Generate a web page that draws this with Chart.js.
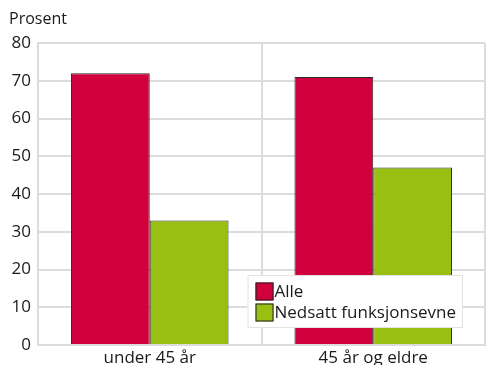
<!DOCTYPE html>
<html>
<head>
<meta charset="utf-8">
<script src="https://cdn.jsdelivr.net/npm/chart.js@4/dist/chart.umd.min.js"></script>
<style>
  html, body { margin: 0; padding: 0; background: #ffffff; }
  canvas { display: block; }
</style>
</head>
<body>
<canvas id="c" width="486" height="365"></canvas>
<script>
// Andel (prosent) etter aldersgruppe
const categories = ['under 45 år', '45 år og eldre'];
const alle = [72, 71];
const nedsattFunksjonsevne = [33, 47];
const seriesNames = ['Alle', 'Nedsatt funksjonsevne'];
const yTicks = [0, 10, 20, 30, 40, 50, 60, 70, 80];
const yUnit = 'Prosent';

const FONT = "'Open Sans', 'DejaVu Sans', sans-serif";
const TEXT = '#1a1a1a';
const GRID = '#dcdcdc';

// Y-axis unit label above the tick column
const unitLabel = {
  id: 'unitLabel',
  afterDraw(chart) {
    const ctx = chart.ctx;
    ctx.save();
    ctx.font = '16px ' + FONT;
    ctx.fillStyle = TEXT;
    ctx.textAlign = 'left';
    ctx.textBaseline = 'middle';
    ctx.fillText(yUnit, 9, 19);
    ctx.restore();
  }
};

// Boxed legend placed inside the plot, lower right
const insideLegend = {
  id: 'insideLegend',
  afterDraw(chart) {
    const ctx = chart.ctx;
    const area = chart.chartArea;
    const sets = chart.data.datasets;
    ctx.save();
    ctx.font = '17px ' + FONT;
    const rowH = 21;
    const sw = 18;
    let maxW = 0;
    sets.forEach(d => { maxW = Math.max(maxW, ctx.measureText(d.label).width); });
    const boxW = 8 + sw + 2 + maxW + 6;
    const boxH = sets.length * rowH + 11;
    const x0 = area.right - 22 - boxW;
    const y0 = area.bottom - 70;
    ctx.fillStyle = '#ffffff';
    ctx.fillRect(x0, y0, boxW, boxH);
    ctx.strokeStyle = '#e2e2e2';
    ctx.lineWidth = 1;
    ctx.strokeRect(x0 + 0.5, y0 + 0.5, boxW - 1, boxH - 1);
    sets.forEach((d, i) => {
      const cy = y0 + 6 + rowH * i + rowH / 2;
      ctx.fillStyle = d.backgroundColor;
      ctx.fillRect(x0 + 8, cy - sw / 2, sw, sw);
      ctx.strokeStyle = '#222';
      ctx.strokeRect(x0 + 8.5, cy - sw / 2 + 0.5, sw - 1, sw - 1);
      ctx.fillStyle = TEXT;
      ctx.textAlign = 'left';
      ctx.textBaseline = 'middle';
      ctx.fillText(d.label, x0 + 8 + sw + 1, cy + 1);
    });
    ctx.restore();
  }
};

new Chart(document.getElementById('c'), {
  type: 'bar',
  data: {
    labels: categories,
    datasets: [
      { label: seriesNames[0], data: alle, backgroundColor: '#d0003c', borderColor: '#2a2a2a', borderWidth: 1 },
      { label: seriesNames[1], data: nedsattFunksjonsevne, backgroundColor: '#99bf13', borderColor: '#2a2a2a', borderWidth: 1 }
    ]
  },
  options: {
    responsive: false,
    animation: false,
    devicePixelRatio: 1,
    layout: { padding: { top: 43, right: 1, left: 0, bottom: 0 } },
    datasets: { bar: { categoryPercentage: 0.705, barPercentage: 1 } },
    plugins: {
      legend: { display: false },
      tooltip: { enabled: false }
    },
    scales: {
      x: {
        afterFit(axis) { axis.height = 20; },
        grid: { color: GRID, lineWidth: 2, drawTicks: false, offset: true },
        border: { color: GRID, width: 2 },
        ticks: { color: TEXT, font: { family: FONT, size: 17 }, padding: 3 }
      },
      y: {
        min: 0,
        max: 80,
        afterBuildTicks(axis) { axis.ticks = yTicks.map(v => ({ value: v })); },
        afterFit(axis) { axis.width = 38; },
        grid: { color: GRID, lineWidth: 2, drawTicks: false },
        border: { color: GRID, width: 2 },
        ticks: { color: TEXT, font: { family: FONT, size: 17 }, padding: 7 }
      }
    }
  },
  plugins: [unitLabel, insideLegend]
});
</script>
</body>
</html>
